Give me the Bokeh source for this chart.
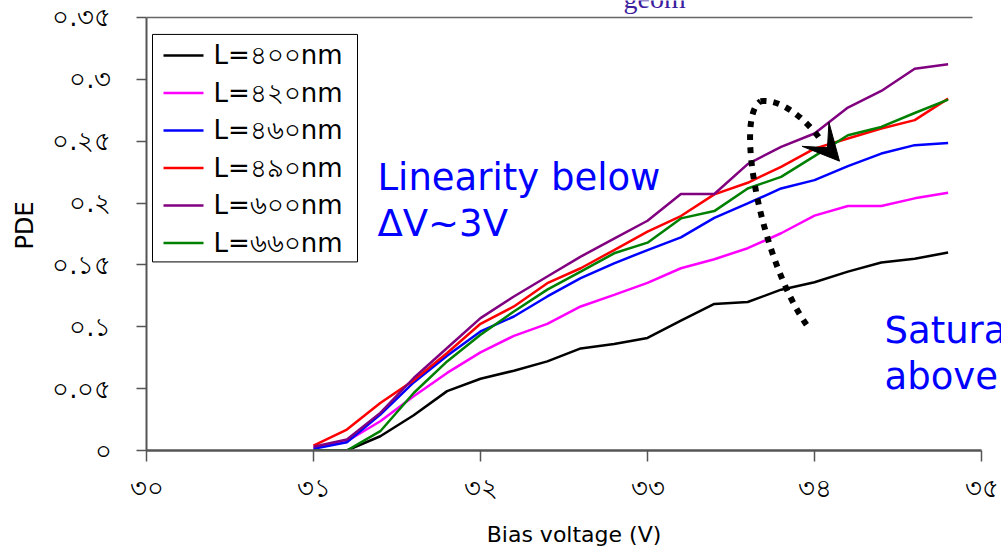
from bokeh.plotting import figure
from bokeh.models import (Range1d, FixedTicker, Label, Arrow, VeeHead)
from bokeh.embed import file_html
from bokeh.resources import INLINE

# ---------------- data ----------------
bias_v = [31.0, 31.2, 31.4, 31.6, 31.8, 32.0, 32.2, 32.4, 32.6, 32.8,
          33.0, 33.2, 33.4, 33.6, 33.8, 34.0, 34.2, 34.4, 34.6, 34.8]

pde_l400 = [0.000, 0.000, 0.0115, 0.0285, 0.048, 0.058, 0.0645, 0.072, 0.0825, 0.086,
            0.091, 0.105, 0.1185, 0.120, 0.130, 0.136, 0.1446, 0.152, 0.155, 0.160]
pde_l420 = [0.002, 0.0075, 0.0236, 0.0438, 0.0627, 0.0793, 0.0927, 0.1024, 0.1164, 0.1258,
            0.1355, 0.1473, 0.1546, 0.1635, 0.1756, 0.1898, 0.1976, 0.1976, 0.2038, 0.2083]
pde_l460 = [0.0014, 0.0067, 0.029, 0.055, 0.0766, 0.0962, 0.1083, 0.1245, 0.1393, 0.1513,
            0.162, 0.1723, 0.188, 0.1997, 0.2118, 0.2185, 0.2298, 0.240, 0.2468, 0.2486]
pde_l490 = [0.004, 0.0169, 0.0384, 0.0567, 0.0788, 0.1024, 0.1164, 0.1352, 0.1473, 0.162,
            0.1769, 0.1895, 0.207, 0.2164, 0.2293, 0.244, 0.2522, 0.2602, 0.267, 0.2844]
pde_l600 = [0.003, 0.0089, 0.0304, 0.0586, 0.0828, 0.107, 0.1245, 0.1406, 0.1567, 0.1712,
            0.1857, 0.2073, 0.2073, 0.2315, 0.2454, 0.2562, 0.2772, 0.2906, 0.3086, 0.3121]
pde_l660 = [0.000, 0.000, 0.0156, 0.0465, 0.072, 0.0935, 0.1124, 0.130, 0.1446, 0.1594,
            0.168, 0.1876, 0.1935, 0.2118, 0.2212, 0.2379, 0.2548, 0.2615, 0.2728, 0.2836]

series_values = [pde_l400, pde_l420, pde_l460, pde_l490, pde_l600, pde_l660]
series_labels = ["L=৪০০nm", "L=৪২০nm", "L=৪৬০nm", "L=৪৯০nm", "L=৬০০nm", "L=৬৬০nm"]
series_colors = ["#000000", "#FF00FF", "#0000FF", "#FF0000", "#800080", "#008000"]

x_ticks = [30, 31, 32, 33, 34, 35]
x_tick_labels = ["৩০", "৩১", "৩২", "৩৩", "৩৪", "৩৫"]
y_ticks = [0.0, 0.05, 0.1, 0.15, 0.2, 0.25, 0.3, 0.35]
y_tick_labels = ["০", "০.০৫", "০.১", "০.১৫", "০.২", "০.২৫", "০.৩", "০.৩৫"]

# ---------------- figure ----------------
W, H = 1001, 549
FRAME_L, FRAME_B = 146, 451
PX_PER_V = 167.0
PX_PER_PDE = 1240.0

x_end = 30 + (W - FRAME_L) / PX_PER_V
y_end = FRAME_B / PX_PER_PDE

p = figure(width=W, height=H, output_backend="svg", toolbar_location=None,
           x_range=Range1d(30, x_end), y_range=Range1d(0, y_end),
           min_border_left=FRAME_L, min_border_right=0,
           min_border_top=0, min_border_bottom=H - FRAME_B,
           x_axis_label="Bias voltage (V)", y_axis_label="PDE")
p.outline_line_color = None
p.xgrid.grid_line_color = None
p.ygrid.grid_line_color = None
p.background_fill_color = "white"
p.border_fill_color = "white"


def sx(px):
    return 30 + (px - FRAME_L) / PX_PER_V


def sy(py):
    return (FRAME_B - py) / PX_PER_PDE


# axes
xa = p.xaxis[0]
xa.bounds = (x_ticks[0], x_ticks[-1])
xa.ticker = FixedTicker(ticks=x_ticks)
xa.major_label_overrides = {t: s for t, s in zip(x_ticks, x_tick_labels)}
xa.minor_tick_line_color = None
xa.major_tick_in = 0
xa.major_tick_out = 11
xa.axis_line_color = "#555555"
xa.axis_line_width = 2.5
xa.major_tick_line_color = "#555555"
xa.major_tick_line_width = 1.5
xa.major_label_standoff = 11
xa.major_label_text_font = "DejaVu Sans"
xa.major_label_text_font_size = "26px"
xa.major_label_text_color = "black"
xa.axis_label_standoff = 16
xa.axis_label_text_font = "DejaVu Sans"
xa.axis_label_text_font_size = "22px"
xa.axis_label_text_font_style = "normal"
xa.axis_label_text_color = "black"

ya = p.yaxis[0]
ya.bounds = (y_ticks[0], y_ticks[-1])
ya.ticker = FixedTicker(ticks=y_ticks)
ya.major_label_overrides = {t: s for t, s in zip(y_ticks, y_tick_labels)}
ya.minor_tick_line_color = None
ya.major_tick_in = 0
ya.major_tick_out = 10
ya.axis_line_color = "#555555"
ya.axis_line_width = 2
ya.major_tick_line_color = "#555555"
ya.major_tick_line_width = 1.5
ya.major_label_standoff = 25
ya.major_label_text_font = "DejaVu Sans"
ya.major_label_text_font_size = "26px"
ya.major_label_text_color = "black"
ya.axis_label_standoff = 10
ya.axis_label_text_font = "DejaVu Sans"
ya.axis_label_text_font_size = "24px"
ya.axis_label_text_font_style = "normal"
ya.axis_label_text_color = "black"

# top border line of the plot area
p.segment(x0=[x_ticks[0]], y0=[y_ticks[-1]], x1=[sx(972)], y1=[y_ticks[-1]],
          line_color="#666666", line_width=1.5)

# series
for vals, col in zip(series_values, series_colors):
    p.line(bias_v, vals, line_color=col, line_width=2.5)

# legend (box, line samples and labels)
p.quad(left=[sx(152)], right=[sx(357)], top=[sy(34)], bottom=[sy(262)],
       fill_color="white", line_color="black", line_width=1)
for i, (lab, col) in enumerate(zip(series_labels, series_colors)):
    row_y = sy(55 + i * 37.6)
    p.segment(x0=[sx(163)], y0=[row_y], x1=[sx(203)], y1=[row_y],
              line_color=col, line_width=2.5)
    p.add_layout(Label(x=sx(213), y=row_y, text=lab, text_color="black",
                       text_font="DejaVu Sans", text_font_size="26px",
                       text_baseline="middle", text_align="left"))

# dotted curved arrow
p.bezier(x0=[sx(806)], y0=[sy(325)], x1=[sx(760)], y1=[sy(101)],
         cx0=[sx(762)], cy0=[sy(262)], cx1=[sx(733)], cy1=[sy(118)],
         line_color="black", line_width=6, line_dash="6 7")
p.bezier(x0=[sx(760)], y0=[sy(101)], x1=[sx(822)], y1=[sy(142)],
         cx0=[sx(780)], cy0=[sy(98)], cx1=[sx(805)], cy1=[sy(118)],
         line_color="black", line_width=6, line_dash="6 7")
p.add_layout(Arrow(end=VeeHead(size=36, fill_color="black", line_color="black"),
                   x_start=sx(814), y_start=sy(133), x_end=sx(839), y_end=sy(161),
                   line_color=None))

# annotations
for txt, px, py in [("Linearity below", 377, 177), ("ΔV~3V", 377, 223),
                    ("Saturation", 884, 331), ("above", 884, 377)]:
    p.add_layout(Label(x=sx(px), y=sy(py), text=txt, text_color="#0000FF",
                       text_font="DejaVu Sans", text_font_size="37px",
                       text_baseline="alphabetic", text_align="left"))

p.add_layout(Label(x=sx(623), y=sy(-2), text="geom", text_color="#3C1E9E",
                   text_font="Liberation Serif", text_font_size="28px",
                   text_baseline="alphabetic", text_align="left"))

open("out.html", "w").write(file_html(p, INLINE))
